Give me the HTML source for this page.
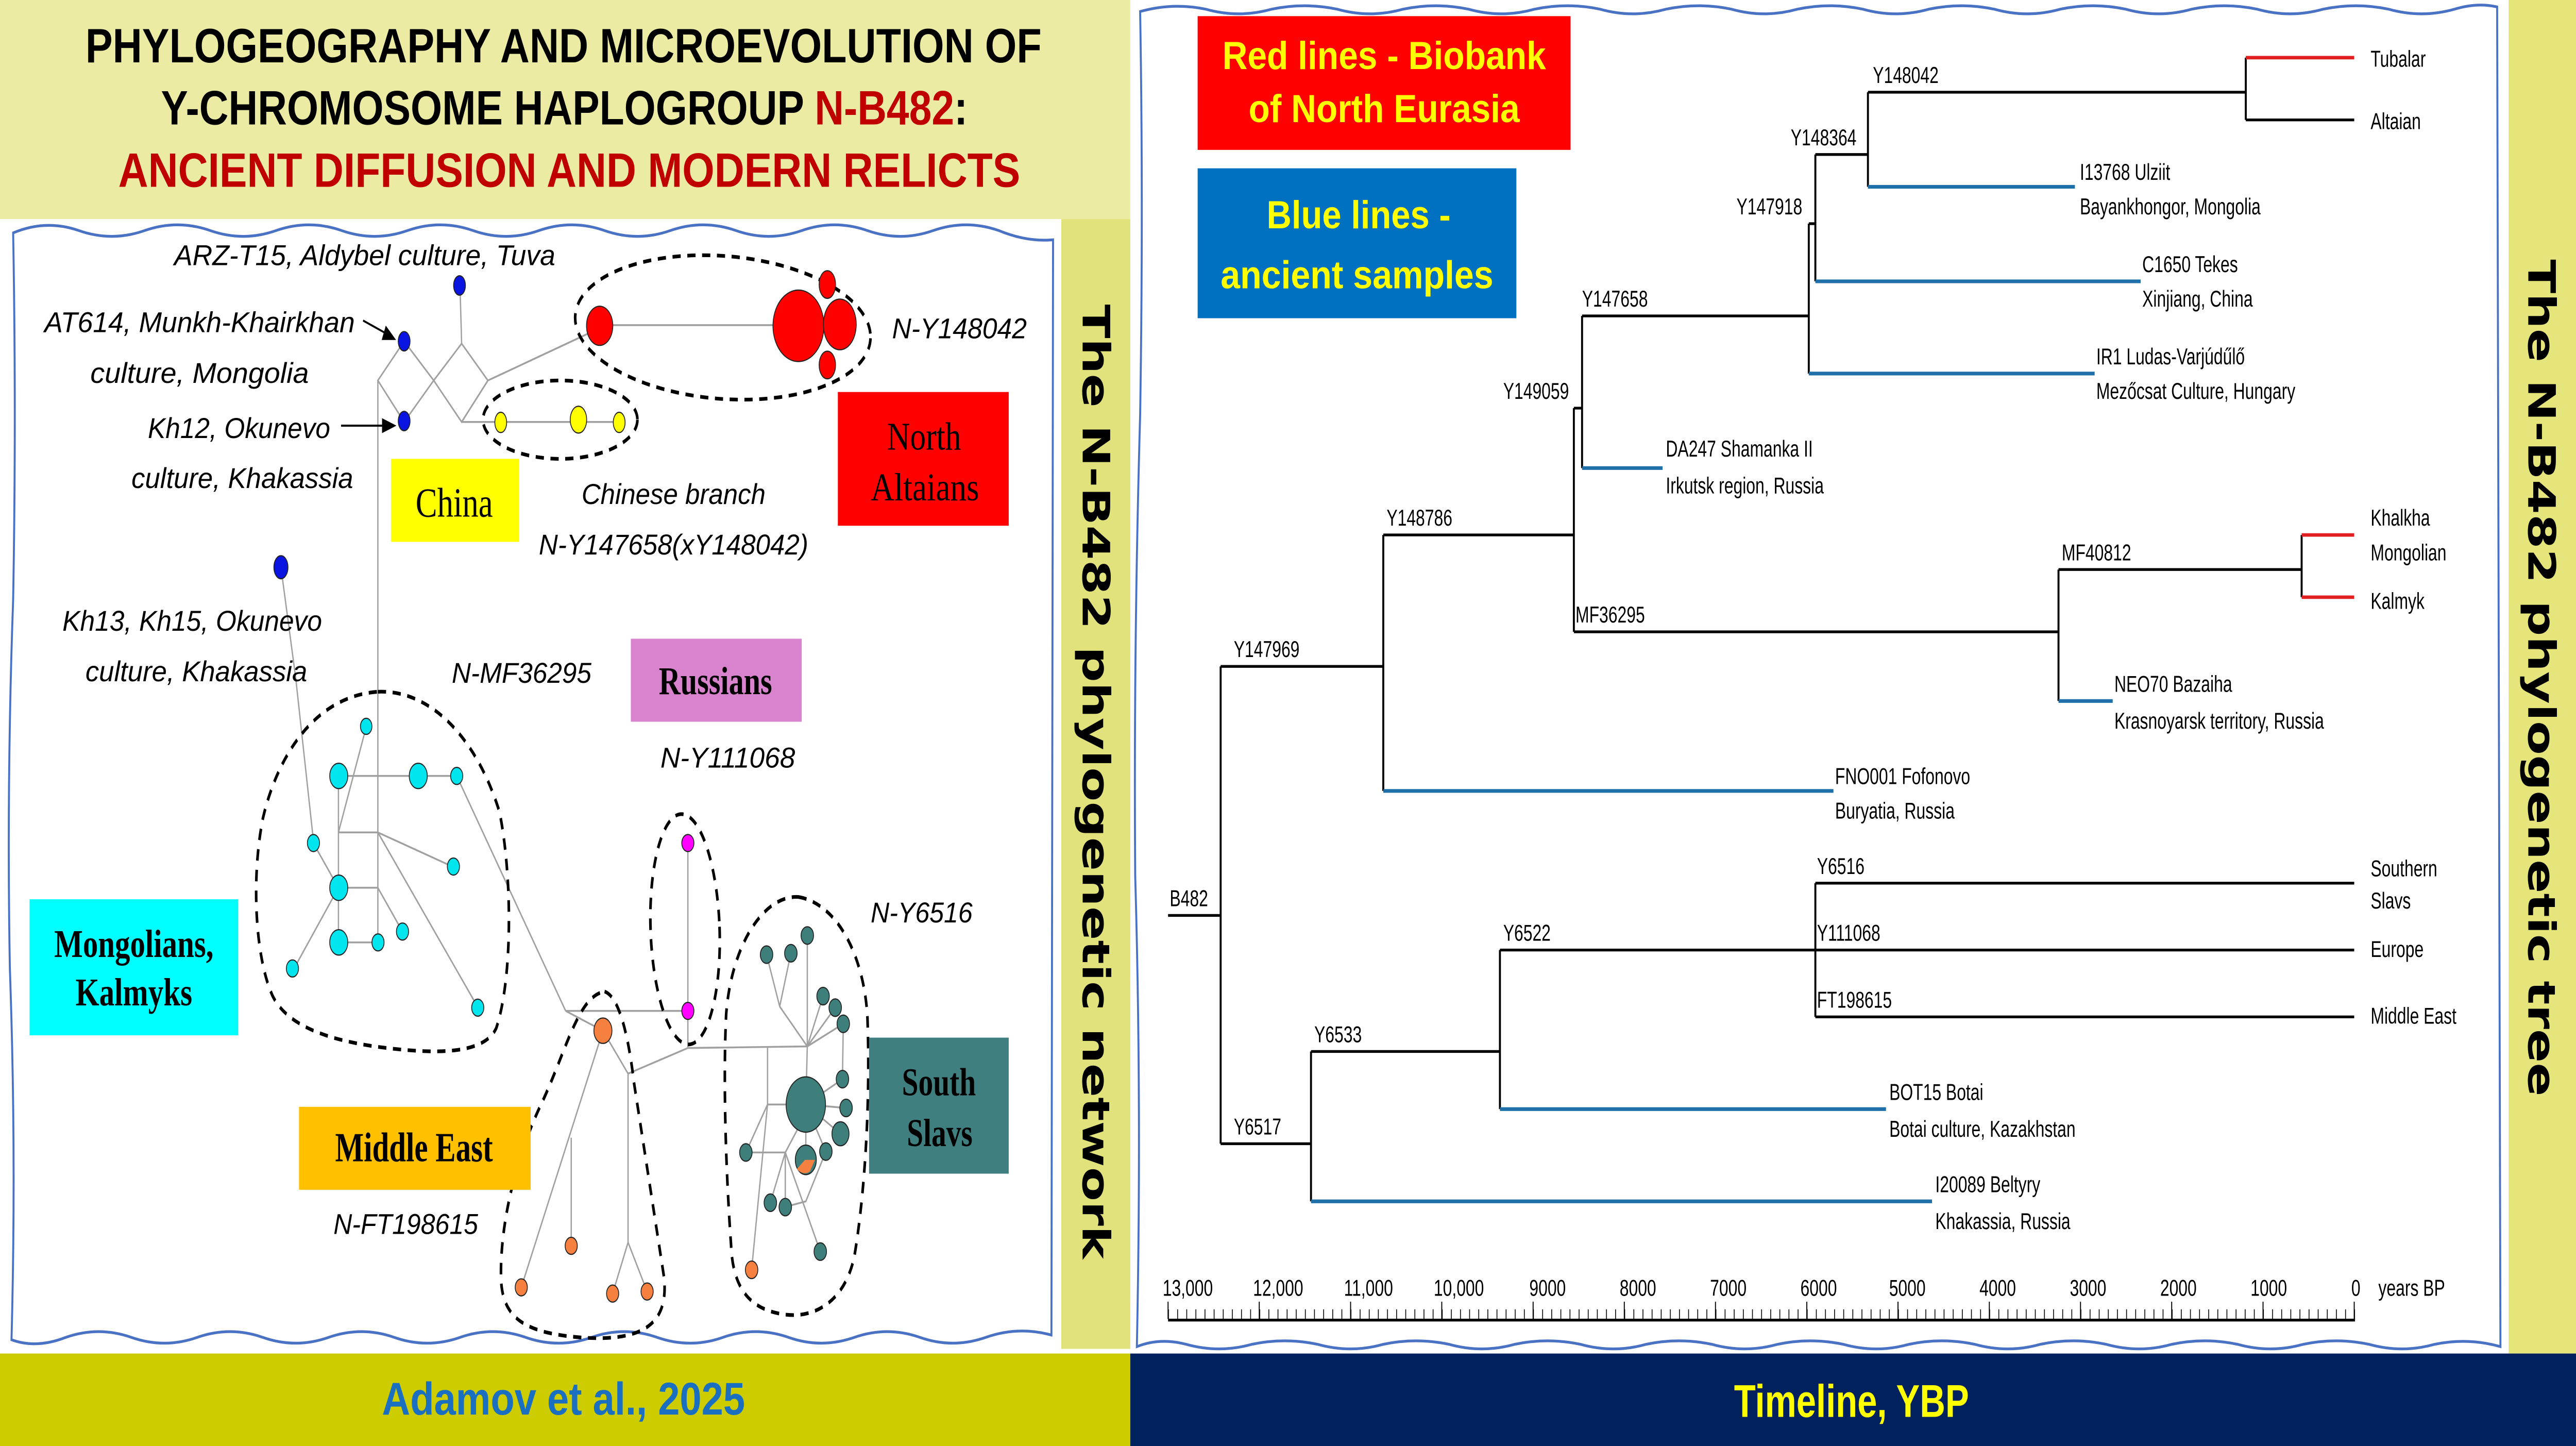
<!DOCTYPE html>
<html><head><meta charset="utf-8"><style>
html,body{margin:0;padding:0;background:#fff;width:100%;height:100%;overflow:hidden}
svg{display:block;position:fixed;left:0;top:0;width:100vw;height:100vh}
</style></head><body>
<svg xmlns="http://www.w3.org/2000/svg" viewBox="0 0 1568 627.1" preserveAspectRatio="none">
<defs>
<pattern id="minor" x="711" y="0" width="5.554" height="627.1" patternUnits="userSpaceOnUse">
<rect x="0" y="567.8" width="0.5" height="4.4" fill="#000"/>
</pattern>
</defs>
<rect x="0" y="0" width="1568" height="627.1" fill="#fff"/>
<rect x="0" y="0" width="688" height="95" fill="#ebeba4"/>
<rect x="646" y="95" width="42" height="490" fill="#e2e27c"/>
<rect x="1527" y="0" width="41" height="587" fill="#e5e57c"/>
<rect x="0" y="587" width="688" height="40.1" fill="#cccc00"/>
<rect x="688" y="587" width="880" height="40.1" fill="#00205e"/>
<text x="343" y="613.5" font-family="Liberation Sans, sans-serif" font-weight="bold" font-size="20" fill="#1a6fc0" text-anchor="middle" textLength="221" lengthAdjust="spacingAndGlyphs">Adamov et al., 2025</text>
<text x="1127" y="614.5" font-family="Liberation Sans, sans-serif" font-weight="bold" font-size="20" fill="#ffff00" text-anchor="middle" textLength="143" lengthAdjust="spacingAndGlyphs">Timeline, YBP</text>

<g font-family="Liberation Sans, sans-serif" font-weight="bold" font-size="21" text-anchor="start">
<text x="52" y="27" textLength="582" lengthAdjust="spacingAndGlyphs" fill="#000">PHYLOGEOGRAPHY AND MICROEVOLUTION OF</text>
<text x="98" y="54" textLength="491" lengthAdjust="spacingAndGlyphs" fill="#000">Y-CHROMOSOME HAPLOGROUP <tspan fill="#c00000">N-B482</tspan>:</text>
<text x="72" y="81" textLength="549" lengthAdjust="spacingAndGlyphs" fill="#c00000">ANCIENT DIFFUSION AND MODERN RELICTS</text>
</g>

<text transform="translate(659,339) rotate(90)" font-family="DejaVu Sans, sans-serif" font-weight="bold" font-size="23" text-anchor="middle" textLength="414" lengthAdjust="spacingAndGlyphs" fill="#000">The N-B482 phylogenetic network</text>
<text transform="translate(1539,294) rotate(90)" font-family="DejaVu Sans, sans-serif" font-weight="bold" font-size="23" text-anchor="middle" textLength="363" lengthAdjust="spacingAndGlyphs" fill="#000">The N-B482 phylogenetic tree</text>

<path d="M8,101 Q28,95 48,100 Q68,105 88,100 Q108,95 128,100 Q148,105 168,100 Q188,95 208,100 Q228,105 248,100 Q268,95 288,100 Q308,105 328,100 Q348,95 368,100 Q388,105 408,100 Q428,95 448,100 Q468,105 488,100 Q508,95 528,100 Q548,105 568,100 Q588,95 608,100 Q625,105 641,104 L640,579 Q620,575 600,580 Q580,585 560,580 Q540,575 520,580 Q500,585 480,580 Q460,575 440,580 Q420,585 400,580 Q380,575 360,580 Q340,585 320,580 Q300,575 280,580 Q260,585 240,580 Q220,575 200,580 Q180,585 160,580 Q140,575 120,580 Q100,585 80,580 Q60,575 40,580 Q22,585 7,581 Q10,500 6,420 Q4,340 8,260 Q10,180 8,101 Z" fill="#fff" stroke="#4a72c4" stroke-width="1.2"/>
<path d="M694,5 Q714,1 734,4 Q754,8 774,4 Q794,1 814,4 Q834,8 854,4 Q874,1 894,4 Q914,8 934,4 Q954,1 974,4 Q994,8 1014,4 Q1034,1 1054,4 Q1074,8 1094,4 Q1114,1 1134,4 Q1154,8 1174,4 Q1194,1 1214,4 Q1234,8 1254,4 Q1274,1 1294,4 Q1314,8 1334,4 Q1354,1 1374,4 Q1394,8 1414,4 Q1434,1 1454,4 Q1474,8 1494,4 Q1508,1 1520,3 L1522,584 Q1502,580 1482,583 Q1462,587 1442,583 Q1422,580 1402,583 Q1382,587 1362,583 Q1342,580 1322,583 Q1302,587 1282,583 Q1262,580 1242,583 Q1222,587 1202,583 Q1182,580 1162,583 Q1142,587 1122,583 Q1102,580 1082,583 Q1062,587 1042,583 Q1022,580 1002,583 Q982,587 962,583 Q942,580 922,583 Q902,587 882,583 Q862,580 842,583 Q822,587 802,583 Q782,580 762,583 Q742,587 722,583 Q706,580 692,584 Q695,480 691,380 Q690,280 694,180 Q696,90 694,5 Z" fill="#fff" stroke="#4a72c4" stroke-width="1.2"/>

<g stroke="#a0a0a0" stroke-width="0.8" fill="none">
<polyline points="246,148 230,165 246,183 264,165 246,148"/>
<polyline points="281,149 264,165 281,183 297,165 281,149"/>
<line x1="280" y1="124" x2="281" y2="149"/>
<line x1="297" y1="165" x2="360" y2="144"/>
<line x1="281" y1="183" x2="297" y2="165"/>
<line x1="281" y1="183" x2="377" y2="183"/>
<line x1="365" y1="141" x2="486" y2="141"/>
<line x1="230" y1="165" x2="230" y2="409"/>
<polyline points="171,246 180,294 191,366 206,385"/>
<line x1="206" y1="336.5" x2="206" y2="408.7"/>
<line x1="206" y1="336.5" x2="278" y2="336.5"/>
<line x1="206" y1="361" x2="230" y2="361"/>
<line x1="206" y1="385" x2="230" y2="385"/>
<line x1="206" y1="408.7" x2="230" y2="408.7"/>
<line x1="206" y1="361" x2="223" y2="315"/>
<line x1="230" y1="361" x2="276" y2="376"/>
<line x1="230" y1="361" x2="291" y2="437"/>
<line x1="230" y1="385" x2="245" y2="404"/>
<line x1="206" y1="385" x2="179" y2="420"/>
<line x1="278" y1="336.5" x2="344.3" y2="438.4"/>
<line x1="344.3" y1="438.4" x2="418.7" y2="438.4"/>
<line x1="344.3" y1="438.4" x2="367" y2="447"/>
<line x1="418.7" y1="365.6" x2="418.7" y2="454.5"/>
<line x1="418.7" y1="454.5" x2="491.4" y2="453.8"/>
<polyline points="418.7,454.5 386.6,464.3 382.3,465.6"/>
<line x1="367" y1="447" x2="382.3" y2="465.6"/>
<line x1="382.3" y1="465.6" x2="382.3" y2="538.8"/>
<line x1="382.3" y1="538.8" x2="372.9" y2="561"/>
<line x1="382.3" y1="538.8" x2="393.9" y2="560.1"/>
<line x1="367" y1="447" x2="317.3" y2="558.3"/>
<line x1="347.7" y1="493.4" x2="347.7" y2="540.3"/>
<line x1="491.4" y1="453.8" x2="491.4" y2="405.7"/>
<polyline points="491.4,453.8 474.6,436.5 466.6,414"/>
<line x1="474.6" y1="436.5" x2="481.4" y2="413.4"/>
<line x1="491.4" y1="453.8" x2="501" y2="432"/>
<line x1="491.4" y1="453.8" x2="508.4" y2="437"/>
<line x1="491.4" y1="453.8" x2="513.3" y2="444"/>
<line x1="513.3" y1="444" x2="512.8" y2="468"/>
<line x1="491.4" y1="453.8" x2="490.5" y2="479"/>
<line x1="467.2" y1="454" x2="467.2" y2="479"/>
<line x1="467.2" y1="479" x2="490.5" y2="479"/>
<line x1="467.2" y1="479" x2="454" y2="499.8"/>
<line x1="467.2" y1="479" x2="457.5" y2="550.7"/>
<line x1="454" y1="499.8" x2="478" y2="499.8"/>
<line x1="478" y1="499.8" x2="478" y2="523.5"/>
<line x1="478" y1="499.8" x2="468.9" y2="521.6"/>
<line x1="478" y1="499.8" x2="499.3" y2="542.8"/>
<line x1="478" y1="499.8" x2="489" y2="485"/>
<line x1="490.5" y1="479" x2="512.8" y2="468"/>
<line x1="490.5" y1="479" x2="515" y2="480.5"/>
<line x1="490.5" y1="479" x2="511.6" y2="491.7"/>
<line x1="490.5" y1="479" x2="502.7" y2="499.4"/>
<line x1="490.5" y1="479" x2="490.5" y2="503"/>
<polyline points="502.7,499.4 490.5,521 480,523"/>
</g>

<g stroke="#000" stroke-width="1.6" stroke-dasharray="5,4" fill="none">
<ellipse cx="440" cy="142" rx="90" ry="31" transform="rotate(3 440 142)"/>
<ellipse cx="341" cy="182" rx="47" ry="17"/>
<path d="M230,300 C262,299 290,320 304,352 C312,380 312,425 302,446 C294,458 262,457 230,454 C200,451 175,445 166,432 C155,415 153,380 160,355 C168,330 190,302 230,300Z"/>
<path d="M368,430 C376,432 382,446 386,470 L404,553 C408,575 390,582 353,580 C320,578 306,572 305,555 C304,530 315,500 330,478 C345,455 352,432 368,430Z"/>
<ellipse cx="417" cy="403" rx="21" ry="50" transform="rotate(-3 417 403)"/>
<path d="M486,389 C510,392 526,415 528,441 C530,480 526,520 520,545 C514,565 495,572 477,570 C458,568 446,560 445,540 C442,510 440,470 442,440 C445,410 465,388 486,389Z"/>
</g>

<g stroke="#222" stroke-width="0.5">
<g fill="#0a14e0">
<ellipse cx="279.7" cy="123.8" rx="3.6" ry="4.2"/>
<ellipse cx="246" cy="148" rx="3.6" ry="4.2"/>
<ellipse cx="246" cy="182.6" rx="3.6" ry="4.2"/>
<ellipse cx="171" cy="246" rx="4.3" ry="5"/>
</g>
<g fill="#ff0000">
<ellipse cx="365" cy="141.3" rx="8" ry="8.5"/>
<ellipse cx="486" cy="141.3" rx="15.5" ry="15.5"/>
<ellipse cx="503.6" cy="123.4" rx="5" ry="6"/>
<ellipse cx="511.2" cy="140.7" rx="10" ry="11"/>
<ellipse cx="503.6" cy="158.3" rx="5" ry="6"/>
</g>
<g fill="#ffff00">
<ellipse cx="304.8" cy="183.2" rx="3.6" ry="4.4"/>
<ellipse cx="352.1" cy="182" rx="5" ry="5.8"/>
<ellipse cx="376.9" cy="183.2" rx="3.6" ry="4.4"/>
</g>
<g fill="#00e5ee">
<circle cx="222.9" cy="315" r="3.5"/>
<circle cx="206.2" cy="336.5" r="5.5"/>
<circle cx="254.6" cy="336.5" r="5.5"/>
<circle cx="278" cy="336.5" r="3.7"/>
<circle cx="190.8" cy="365.6" r="3.7"/>
<circle cx="276" cy="375.8" r="3.7"/>
<circle cx="206.2" cy="385" r="5.5"/>
<circle cx="245" cy="404" r="3.7"/>
<circle cx="206.2" cy="408.7" r="5.5"/>
<circle cx="230.1" cy="408.7" r="3.7"/>
<circle cx="290.8" cy="437" r="3.7"/>
<circle cx="178" cy="420" r="3.7"/>
</g>
<g fill="#ff00ff">
<circle cx="418.7" cy="365.6" r="3.7"/>
<circle cx="418.7" cy="438.4" r="3.7"/>
</g>
<g fill="#f58040">
<circle cx="367" cy="447" r="5.5"/>
<circle cx="317.3" cy="558.3" r="3.7"/>
<circle cx="347.7" cy="540.3" r="3.7"/>
<circle cx="372.9" cy="561" r="3.7"/>
<circle cx="393.9" cy="560.1" r="3.7"/>
<circle cx="457.5" cy="550.7" r="3.8"/>
</g>
<g fill="#3f7f7b">
<circle cx="491.4" cy="405.7" r="3.8"/>
<circle cx="466.6" cy="414" r="3.8"/>
<circle cx="481.4" cy="413.4" r="3.8"/>
<circle cx="501" cy="432" r="3.8"/>
<circle cx="508.4" cy="437" r="3.8"/>
<circle cx="513.3" cy="444" r="3.8"/>
<circle cx="512.8" cy="468" r="3.8"/>
<circle cx="515" cy="480.5" r="3.8"/>
<circle cx="511.6" cy="491.7" r="5.2"/>
<circle cx="490.5" cy="479" r="12"/>
<circle cx="490.5" cy="503" r="6.4"/>
<circle cx="502.7" cy="499.4" r="3.8"/>
<circle cx="454" cy="499.8" r="3.8"/>
<circle cx="468.9" cy="521.6" r="3.8"/>
<circle cx="478" cy="523.5" r="3.8"/>
<circle cx="499.3" cy="542.8" r="3.8"/>
</g>
<path d="M485,507 L490,503 L496,503 L493,508 Q489,510 485,507Z" fill="#f58040" stroke="none"/>
</g>

<g stroke="#000" stroke-width="0.9" fill="#000">
<line x1="221" y1="139" x2="236" y2="145"/>
<polygon points="240,147 233,147 235,142"/>
<line x1="207.6" y1="184.6" x2="235" y2="184.6"/>
<polygon points="240,184.6 233,182 233,187.2"/>
</g>

<g font-family="Liberation Sans, sans-serif" font-style="italic" font-size="12.5" fill="#000">
<text x="106" y="115" textLength="232" lengthAdjust="spacingAndGlyphs">ARZ-T15, Aldybel  culture, Tuva</text>
<text x="27" y="144" textLength="189" lengthAdjust="spacingAndGlyphs">AT614, Munkh-Khairkhan</text>
<text x="55" y="166" textLength="133" lengthAdjust="spacingAndGlyphs">culture, Mongolia</text>
<text x="90" y="190" textLength="111" lengthAdjust="spacingAndGlyphs">Kh12, Okunevo</text>
<text x="80" y="211.6" textLength="135" lengthAdjust="spacingAndGlyphs">culture, Khakassia</text>
<text x="543" y="146.7" textLength="82" lengthAdjust="spacingAndGlyphs">N-Y148042</text>
<text x="354" y="218.6" textLength="112" lengthAdjust="spacingAndGlyphs">Chinese branch</text>
<text x="328" y="240.5" textLength="164" lengthAdjust="spacingAndGlyphs">N-Y147658(xY148042)</text>
<text x="38" y="273.5" textLength="158" lengthAdjust="spacingAndGlyphs">Kh13, Kh15, Okunevo</text>
<text x="52" y="295.4" textLength="135" lengthAdjust="spacingAndGlyphs">culture, Khakassia</text>
<text x="275" y="296.1" textLength="85" lengthAdjust="spacingAndGlyphs">N-MF36295</text>
<text x="402" y="332.9" textLength="82" lengthAdjust="spacingAndGlyphs">N-Y111068</text>
<text x="530" y="400" textLength="62" lengthAdjust="spacingAndGlyphs">N-Y6516</text>
<text x="203" y="535.1" textLength="88" lengthAdjust="spacingAndGlyphs">N-FT198615</text>
</g>

<rect x="510" y="170" width="104" height="58" fill="#ff0000"/>
<rect x="238" y="199" width="78" height="36" fill="#ffff00"/>
<rect x="384" y="277" width="104" height="36" fill="#d983cf"/>
<rect x="18" y="390" width="127" height="59" fill="#00ffff"/>
<rect x="182" y="480" width="141" height="36" fill="#ffc000"/>
<rect x="529" y="450" width="85" height="59" fill="#407f7f"/>
<g font-family="Liberation Serif, serif" font-size="17" fill="#000">
<text x="540" y="195" textLength="45" lengthAdjust="spacingAndGlyphs">North</text>
<text x="530" y="217" textLength="66" lengthAdjust="spacingAndGlyphs">Altaians</text>
<text x="253" y="224" textLength="47" lengthAdjust="spacingAndGlyphs" font-size="18">China</text>
<text x="401" y="301" textLength="69" lengthAdjust="spacingAndGlyphs" font-weight="bold">Russians</text>
<text x="33" y="415" textLength="97" lengthAdjust="spacingAndGlyphs" font-weight="bold">Mongolians,</text>
<text x="46" y="436" textLength="71" lengthAdjust="spacingAndGlyphs" font-weight="bold">Kalmyks</text>
<text x="204" y="503.6" textLength="96" lengthAdjust="spacingAndGlyphs" font-weight="bold" font-size="18">Middle East</text>
<text x="549" y="475" textLength="45" lengthAdjust="spacingAndGlyphs" font-weight="bold">South</text>
<text x="552" y="497" textLength="40" lengthAdjust="spacingAndGlyphs" font-weight="bold">Slavs</text>
</g>

<rect x="729" y="7" width="227" height="58" fill="#ff0000"/>
<rect x="729" y="73" width="194" height="65" fill="#0070c0"/>
<g font-family="Liberation Sans, sans-serif" font-weight="bold" font-size="17" fill="#ffff00">
<text x="744" y="30" textLength="197" lengthAdjust="spacingAndGlyphs">Red lines - Biobank</text>
<text x="760" y="53" textLength="165" lengthAdjust="spacingAndGlyphs">of North Eurasia</text>
<text x="771" y="99" textLength="112" lengthAdjust="spacingAndGlyphs">Blue lines -</text>
<text x="743" y="125" textLength="166" lengthAdjust="spacingAndGlyphs">ancient samples</text>
</g>

<g stroke="#000" stroke-width="1.2" fill="none">
<line x1="1137" y1="40" x2="1367" y2="40"/>
<line x1="1367" y1="25" x2="1367" y2="52"/>
<line x1="1367" y1="52" x2="1433" y2="52"/>
<line x1="1105" y1="67" x2="1137" y2="67"/>
<line x1="1137" y1="40" x2="1137" y2="81"/>
<line x1="1105" y1="67" x2="1105" y2="122"/>
<line x1="1101" y1="97" x2="1105" y2="97"/>
<line x1="1101" y1="97" x2="1101" y2="162"/>
<line x1="963" y1="137" x2="1101" y2="137"/>
<line x1="963" y1="137" x2="963" y2="203"/>
<line x1="958" y1="177" x2="963" y2="177"/>
<line x1="958" y1="177" x2="958" y2="274"/>
<line x1="842" y1="232" x2="958" y2="232"/>
<line x1="958" y1="274" x2="1253" y2="274"/>
<line x1="1253" y1="247" x2="1253" y2="304"/>
<line x1="1253" y1="247" x2="1401" y2="247"/>
<line x1="1401" y1="232" x2="1401" y2="259"/>
<line x1="743" y1="289" x2="842" y2="289"/>
<line x1="842" y1="232" x2="842" y2="343"/>
<line x1="743" y1="289" x2="743" y2="496"/>
<line x1="711" y1="397" x2="743" y2="397"/>
<line x1="743" y1="496" x2="798" y2="496"/>
<line x1="798" y1="456" x2="798" y2="521"/>
<line x1="798" y1="456" x2="913" y2="456"/>
<line x1="913" y1="412" x2="913" y2="481"/>
<line x1="913" y1="412" x2="1433" y2="412"/>
<line x1="1105" y1="383" x2="1105" y2="441"/>
<line x1="1105" y1="383" x2="1433" y2="383"/>
<line x1="1105" y1="441" x2="1433" y2="441"/>
</g>
<g stroke="#e02020" stroke-width="1.5">
<line x1="1367" y1="25" x2="1433" y2="25"/>
<line x1="1401" y1="232" x2="1433" y2="232"/>
<line x1="1401" y1="259" x2="1433" y2="259"/>
</g>
<g stroke="#1f6fa8" stroke-width="1.6">
<line x1="1137" y1="81" x2="1263" y2="81"/>
<line x1="1105" y1="122" x2="1303" y2="122"/>
<line x1="1101" y1="162" x2="1275" y2="162"/>
<line x1="963" y1="203" x2="1012" y2="203"/>
<line x1="1253" y1="304" x2="1286" y2="304"/>
<line x1="842" y1="343" x2="1116" y2="343"/>
<line x1="913" y1="481" x2="1148" y2="481"/>
<line x1="798" y1="521" x2="1176" y2="521"/>
</g>

<g font-family="Liberation Sans, sans-serif" font-size="10" fill="#000">
<text x="1140" y="36">Y148042</text>
<text x="1443" y="29">Tubalar</text>
<text x="1443" y="56">Altaian</text>
<text x="1090" y="63">Y148364</text>
<text x="1266" y="78">I13768 Ulziit</text>
<text x="1266" y="93">Bayankhongor, Mongolia</text>
<text x="1057" y="93">Y147918</text>
<text x="1304" y="118">C1650 Tekes</text>
<text x="1304" y="133">Xinjiang, China</text>
<text x="963" y="133">Y147658</text>
<text x="1276" y="158">IR1 Ludas-Varjúdűlő</text>
<text x="1276" y="173">Mezőcsat Culture, Hungary</text>
<text x="915" y="173">Y149059</text>
<text x="1014" y="198">DA247 Shamanka II</text>
<text x="1014" y="214">Irkutsk region, Russia</text>
<text x="844" y="228">Y148786</text>
<text x="1443" y="228">Khalkha</text>
<text x="1255" y="243">MF40812</text>
<text x="1443" y="243">Mongolian</text>
<text x="1443" y="264">Kalmyk</text>
<text x="959" y="270">MF36295</text>
<text x="751" y="285">Y147969</text>
<text x="1287" y="300">NEO70 Bazaiha</text>
<text x="1287" y="316">Krasnoyarsk territory, Russia</text>
<text x="1117" y="340">FNO001 Fofonovo</text>
<text x="1117" y="355">Buryatia, Russia</text>
<text x="1106" y="379">Y6516</text>
<text x="1443" y="380">Southern</text>
<text x="1443" y="394">Slavs</text>
<text x="712" y="393">B482</text>
<text x="915" y="408">Y6522</text>
<text x="1106" y="408">Y111068</text>
<text x="1443" y="415">Europe</text>
<text x="1106" y="437">FT198615</text>
<text x="1443" y="444">Middle East</text>
<text x="800" y="452">Y6533</text>
<text x="1150" y="477">BOT15 Botai</text>
<text x="1150" y="493">Botai culture, Kazakhstan</text>
<text x="751" y="492">Y6517</text>
<text x="1178" y="517">I20089 Beltyry</text>
<text x="1178" y="533">Khakassia, Russia</text>
</g>

<rect x="711" y="567.8" width="722.5" height="4.4" fill="url(#minor)"/>
<line x1="711" y1="572.5" x2="1433.5" y2="572.5" stroke="#000" stroke-width="1.2"/>
<g stroke="#000" stroke-width="0.6">
<line x1="711" y1="564.5" x2="711" y2="572"/><line x1="766.5" y1="564.5" x2="766.5" y2="572"/><line x1="822.1" y1="564.5" x2="822.1" y2="572"/><line x1="877.6" y1="564.5" x2="877.6" y2="572"/><line x1="933.2" y1="564.5" x2="933.2" y2="572"/><line x1="988.7" y1="564.5" x2="988.7" y2="572"/><line x1="1044.2" y1="564.5" x2="1044.2" y2="572"/><line x1="1099.8" y1="564.5" x2="1099.8" y2="572"/><line x1="1155.3" y1="564.5" x2="1155.3" y2="572"/><line x1="1210.9" y1="564.5" x2="1210.9" y2="572"/><line x1="1266.4" y1="564.5" x2="1266.4" y2="572"/><line x1="1321.9" y1="564.5" x2="1321.9" y2="572"/><line x1="1377.5" y1="564.5" x2="1377.5" y2="572"/><line x1="1433" y1="564.5" x2="1433" y2="572"/>
</g>
<g font-family="Liberation Sans, sans-serif" font-size="10" fill="#000" text-anchor="middle">
<text x="723" y="562">13,000</text><text x="778" y="562">12,000</text><text x="833" y="562">11,000</text><text x="888" y="562">10,000</text><text x="942" y="562">9000</text><text x="997" y="562">8000</text><text x="1052" y="562">7000</text><text x="1107" y="562">6000</text><text x="1161" y="562">5000</text><text x="1216" y="562">4000</text><text x="1271" y="562">3000</text><text x="1326" y="562">2000</text><text x="1381" y="562">1000</text><text x="1434" y="562">0</text>
<text x="1468" y="562">years BP</text>
</g>
</svg>
</body></html>
